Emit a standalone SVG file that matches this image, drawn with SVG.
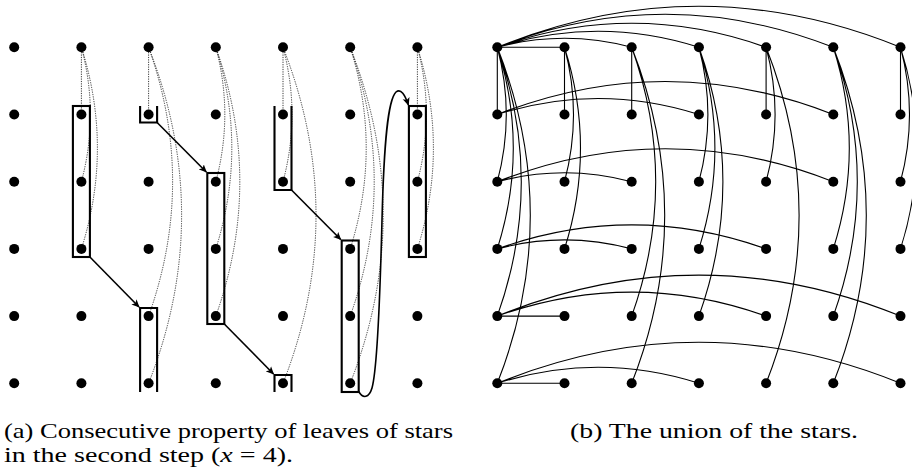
<svg xmlns="http://www.w3.org/2000/svg" width="912" height="472" viewBox="0 0 912 472">
<style>
.dot{fill:#000}
.dotted{fill:none;stroke:#222;stroke-width:0.9;stroke-dasharray:1.2 1.2}
.edge{fill:none;stroke:#000;stroke-width:1.1}
.box{fill:none;stroke:#000;stroke-width:2.1}
.arr{fill:none;stroke:#000;stroke-width:1.6;marker-end:url(#ah)}
.cap{font-family:"Liberation Serif","Times New Roman",serif;font-size:22px;fill:#000}
</style>
<defs>
<marker id="ah" viewBox="0 0 10 10" refX="9" refY="5" markerWidth="8" markerHeight="8" markerUnits="userSpaceOnUse" orient="auto">
<path d="M0,0.5 L10,5 L0,9.5 L2.5,5 z" fill="#000"/>
</marker>
<circle id="d" r="5" class="dot"/>
</defs>

<!-- Panel (a): connectors -->
<g id="a-connectors">
<path class="dotted" d="M81.4,47.3 V114.5 M81.4,47.3 Q99.4,114.5 81.4,181.7 M81.4,47.3 Q113.4,148.1 81.4,248.9"/>
<path class="dotted" d="M148.6,47.3 V114.5 M148.6,47.3 Q196.6,181.7 148.6,316.1 M148.6,47.3 Q214.6,215.3 148.6,383.3"/>
<path class="dotted" d="M215.8,47.3 Q233.8,114.5 215.8,181.7 M215.8,47.3 Q247.8,148.1 215.8,248.9 M215.8,47.3 Q263.8,181.7 215.8,316.1"/>
<path class="dotted" d="M283,47.3 V114.5 M283,47.3 Q301,114.5 283,181.7 M283,47.3 Q349,215.3 283,383.3"/>
<path class="dotted" d="M350.2,47.3 Q382.2,148.1 350.2,248.9 M350.2,47.3 Q398.2,181.7 350.2,316.1 M350.2,47.3 Q416.2,215.3 350.2,383.3"/>
<path class="dotted" d="M417.4,47.3 V114.5 M417.4,47.3 Q435.4,114.5 417.4,181.7 M417.4,47.3 Q449.4,148.1 417.4,248.9"/>
</g>
<g id="a-boxes">
<rect class="box" x="72.9" y="106" width="17" height="151"/>
<path class="box" d="M140.1,106 V122.5 H157.1 V106"/>
<path class="box" d="M140.1,392 V308 H157.1 V392"/>
<rect class="box" x="207.3" y="173" width="17" height="151"/>
<path class="box" d="M274.5,106 V190 H291.5 V106"/>
<path class="box" d="M274.5,392 V375 H291.5 V392"/>
<rect class="box" x="341.7" y="240.5" width="17" height="151.5"/>
<rect class="box" x="408.9" y="106" width="17" height="151"/>
</g>
<g id="a-arrows">
<path class="arr" d="M89.9,257 L139,307"/>
<path class="arr" d="M157.1,122.5 L206.3,172"/>
<path class="arr" d="M224.3,324 L273.5,374"/>
<path class="arr" d="M291.5,190 L340.7,239.5"/>
<path class="arr" d="M358.7,391.5 C363,399 369,398 372,388 C377,370 380,300 382,220 C384,140 388,100 396,92 C401,88 405,95 408.4,105"/>
</g>

<!-- Panel (b): connectors -->
<g id="b-connectors">
<path class="edge" d="M497.3,47.3 H564.5 M497.3,47.3 V114.5"/>
<path class="edge" d="M497.3,47.3 Q564.5,29.3 631.7,47.3 M497.3,47.3 Q598.1,15.3 698.9,47.3 M497.3,47.3 Q631.7,-0.7 766.1,47.3 M497.3,47.3 Q665.3,-18.7 833.3,47.3 M497.3,47.3 Q698.9,-34.7 900.5,47.3"/>
<path class="edge" d="M497.3,47.3 Q515.3,114.5 497.3,181.7 M497.3,47.3 Q529.3,148.1 497.3,248.9 M497.3,47.3 Q545.3,181.7 497.3,316.1 M497.3,47.3 Q563.3,215.3 497.3,383.3"/>
<path class="edge" d="M564.5,47.3 V114.5 M564.5,47.3 Q582.5,114.5 564.5,181.7 M564.5,47.3 Q596.5,148.1 564.5,248.9"/>
<path class="edge" d="M631.7,47.3 V114.5 M631.7,47.3 Q679.7,181.7 631.7,316.1 M631.7,47.3 Q697.7,215.3 631.7,383.3"/>
<path class="edge" d="M698.9,47.3 Q716.9,114.5 698.9,181.7 M698.9,47.3 Q730.9,148.1 698.9,248.9 M698.9,47.3 Q746.9,181.7 698.9,316.1"/>
<path class="edge" d="M766.1,47.3 V114.5 M766.1,47.3 Q784.1,114.5 766.1,181.7 M766.1,47.3 Q832.1,215.3 766.1,383.3"/>
<path class="edge" d="M833.3,47.3 Q865.3,148.1 833.3,248.9 M833.3,47.3 Q881.3,181.7 833.3,316.1 M833.3,47.3 Q899.3,215.3 833.3,383.3"/>
<path class="edge" d="M900.5,47.3 V114.5 M900.5,47.3 Q918.5,114.5 900.5,181.7 M900.5,47.3 Q932.5,148.1 900.5,248.9"/>
<path class="edge" d="M497.3,114.5 Q598.1,82.5 698.9,114.5 M497.3,114.5 Q665.3,48.5 833.3,114.5"/>
<path class="edge" d="M497.3,181.7 Q564.5,163.7 631.7,181.7 M497.3,181.7 Q665.3,115.7 833.3,181.7"/>
<path class="edge" d="M497.3,248.9 Q564.5,230.9 631.7,248.9 M497.3,248.9 Q631.7,200.9 766.1,248.9"/>
<path class="edge" d="M497.3,316.1 H564.5 M497.3,316.1 Q631.7,268.1 766.1,316.1 M497.3,316.1 Q698.9,234.1 900.5,316.1"/>
<path class="edge" d="M497.3,383.3 H564.5 M497.3,383.3 Q598.1,351.3 698.9,383.3 M497.3,383.3 Q698.9,301.3 900.5,383.3"/>
</g>

<!-- Panel (a) nodes -->
<g id="a-r1c1"><use href="#d" x="14.2" y="47.3"/></g><g id="a-r1c2"><use href="#d" x="81.4" y="47.3"/></g><g id="a-r1c3"><use href="#d" x="148.6" y="47.3"/></g><g id="a-r1c4"><use href="#d" x="215.8" y="47.3"/></g><g id="a-r1c5"><use href="#d" x="283" y="47.3"/></g><g id="a-r1c6"><use href="#d" x="350.2" y="47.3"/></g><g id="a-r1c7"><use href="#d" x="417.4" y="47.3"/></g>
<g id="a-r2c1"><use href="#d" x="14.2" y="114.5"/></g><g id="a-r2c2"><use href="#d" x="81.4" y="114.5"/></g><g id="a-r2c3"><use href="#d" x="148.6" y="114.5"/></g><g id="a-r2c4"><use href="#d" x="215.8" y="114.5"/></g><g id="a-r2c5"><use href="#d" x="283" y="114.5"/></g><g id="a-r2c6"><use href="#d" x="350.2" y="114.5"/></g><g id="a-r2c7"><use href="#d" x="417.4" y="114.5"/></g>
<g id="a-r3c1"><use href="#d" x="14.2" y="181.7"/></g><g id="a-r3c2"><use href="#d" x="81.4" y="181.7"/></g><g id="a-r3c3"><use href="#d" x="148.6" y="181.7"/></g><g id="a-r3c4"><use href="#d" x="215.8" y="181.7"/></g><g id="a-r3c5"><use href="#d" x="283" y="181.7"/></g><g id="a-r3c6"><use href="#d" x="350.2" y="181.7"/></g><g id="a-r3c7"><use href="#d" x="417.4" y="181.7"/></g>
<g id="a-r4c1"><use href="#d" x="14.2" y="248.9"/></g><g id="a-r4c2"><use href="#d" x="81.4" y="248.9"/></g><g id="a-r4c3"><use href="#d" x="148.6" y="248.9"/></g><g id="a-r4c4"><use href="#d" x="215.8" y="248.9"/></g><g id="a-r4c5"><use href="#d" x="283" y="248.9"/></g><g id="a-r4c6"><use href="#d" x="350.2" y="248.9"/></g><g id="a-r4c7"><use href="#d" x="417.4" y="248.9"/></g>
<g id="a-r5c1"><use href="#d" x="14.2" y="316.1"/></g><g id="a-r5c2"><use href="#d" x="81.4" y="316.1"/></g><g id="a-r5c3"><use href="#d" x="148.6" y="316.1"/></g><g id="a-r5c4"><use href="#d" x="215.8" y="316.1"/></g><g id="a-r5c5"><use href="#d" x="283" y="316.1"/></g><g id="a-r5c6"><use href="#d" x="350.2" y="316.1"/></g><g id="a-r5c7"><use href="#d" x="417.4" y="316.1"/></g>
<g id="a-r6c1"><use href="#d" x="14.2" y="383.3"/></g><g id="a-r6c2"><use href="#d" x="81.4" y="383.3"/></g><g id="a-r6c3"><use href="#d" x="148.6" y="383.3"/></g><g id="a-r6c4"><use href="#d" x="215.8" y="383.3"/></g><g id="a-r6c5"><use href="#d" x="283" y="383.3"/></g><g id="a-r6c6"><use href="#d" x="350.2" y="383.3"/></g><g id="a-r6c7"><use href="#d" x="417.4" y="383.3"/></g>

<!-- Panel (b) nodes -->
<g id="b-r1c1"><use href="#d" x="497.3" y="47.3"/></g><g id="b-r1c2"><use href="#d" x="564.5" y="47.3"/></g><g id="b-r1c3"><use href="#d" x="631.7" y="47.3"/></g><g id="b-r1c4"><use href="#d" x="698.9" y="47.3"/></g><g id="b-r1c5"><use href="#d" x="766.1" y="47.3"/></g><g id="b-r1c6"><use href="#d" x="833.3" y="47.3"/></g><g id="b-r1c7"><use href="#d" x="900.5" y="47.3"/></g>
<g id="b-r2c1"><use href="#d" x="497.3" y="114.5"/></g><g id="b-r2c2"><use href="#d" x="564.5" y="114.5"/></g><g id="b-r2c3"><use href="#d" x="631.7" y="114.5"/></g><g id="b-r2c4"><use href="#d" x="698.9" y="114.5"/></g><g id="b-r2c5"><use href="#d" x="766.1" y="114.5"/></g><g id="b-r2c6"><use href="#d" x="833.3" y="114.5"/></g><g id="b-r2c7"><use href="#d" x="900.5" y="114.5"/></g>
<g id="b-r3c1"><use href="#d" x="497.3" y="181.7"/></g><g id="b-r3c2"><use href="#d" x="564.5" y="181.7"/></g><g id="b-r3c3"><use href="#d" x="631.7" y="181.7"/></g><g id="b-r3c4"><use href="#d" x="698.9" y="181.7"/></g><g id="b-r3c5"><use href="#d" x="766.1" y="181.7"/></g><g id="b-r3c6"><use href="#d" x="833.3" y="181.7"/></g><g id="b-r3c7"><use href="#d" x="900.5" y="181.7"/></g>
<g id="b-r4c1"><use href="#d" x="497.3" y="248.9"/></g><g id="b-r4c2"><use href="#d" x="564.5" y="248.9"/></g><g id="b-r4c3"><use href="#d" x="631.7" y="248.9"/></g><g id="b-r4c4"><use href="#d" x="698.9" y="248.9"/></g><g id="b-r4c5"><use href="#d" x="766.1" y="248.9"/></g><g id="b-r4c6"><use href="#d" x="833.3" y="248.9"/></g><g id="b-r4c7"><use href="#d" x="900.5" y="248.9"/></g>
<g id="b-r5c1"><use href="#d" x="497.3" y="316.1"/></g><g id="b-r5c2"><use href="#d" x="564.5" y="316.1"/></g><g id="b-r5c3"><use href="#d" x="631.7" y="316.1"/></g><g id="b-r5c4"><use href="#d" x="698.9" y="316.1"/></g><g id="b-r5c5"><use href="#d" x="766.1" y="316.1"/></g><g id="b-r5c6"><use href="#d" x="833.3" y="316.1"/></g><g id="b-r5c7"><use href="#d" x="900.5" y="316.1"/></g>
<g id="b-r6c1"><use href="#d" x="497.3" y="383.3"/></g><g id="b-r6c2"><use href="#d" x="564.5" y="383.3"/></g><g id="b-r6c3"><use href="#d" x="631.7" y="383.3"/></g><g id="b-r6c4"><use href="#d" x="698.9" y="383.3"/></g><g id="b-r6c5"><use href="#d" x="766.1" y="383.3"/></g><g id="b-r6c6"><use href="#d" x="833.3" y="383.3"/></g><g id="b-r6c7"><use href="#d" x="900.5" y="383.3"/></g>

<!-- Captions -->
<g id="captions">
<text class="cap" x="4" y="438" textLength="449" lengthAdjust="spacingAndGlyphs">(a) Consecutive property of leaves of stars</text>
<text class="cap" x="4" y="462" textLength="289" lengthAdjust="spacingAndGlyphs">in the second step (<tspan font-style="italic">x</tspan> = 4).</text>
<text class="cap" x="570" y="438" textLength="288" lengthAdjust="spacingAndGlyphs">(b) The union of the stars.</text>
</g>
</svg>
